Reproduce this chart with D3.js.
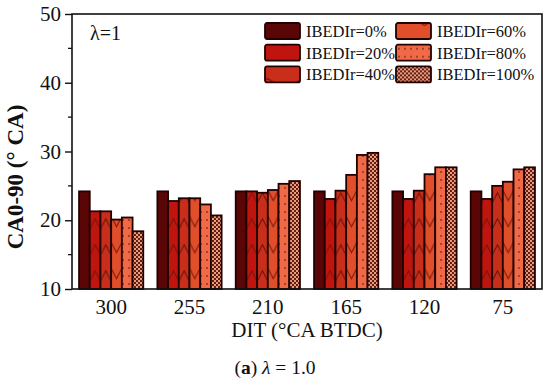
<!DOCTYPE html>
<html>
<head>
<meta charset="utf-8">
<script src="https://cdn.jsdelivr.net/npm/d3@7"></script>
<style>
  body { margin: 0; background: #fff; }
  text { font-family: "Liberation Serif", "Times New Roman", serif; fill: #111; }
</style>
</head>
<body>
<svg id="chart" width="550" height="381"></svg>
<script>
// data
var categories = ["300", "255", "210", "165", "120", "75"];
var series = ["IBEDIr=0%", "IBEDIr=20%", "IBEDIr=40%", "IBEDIr=60%", "IBEDIr=80%", "IBEDIr=100%"];
var ibedir0   = [24.2, 24.2, 24.2, 24.2, 24.2, 24.2];
var ibedir20  = [21.3, 22.8, 24.2, 23.1, 23.1, 23.1];
var ibedir40  = [21.3, 23.2, 24.0, 24.3, 24.3, 25.0];
var ibedir60  = [20.1, 23.2, 24.4, 26.6, 26.7, 25.6];
var ibedir80  = [20.4, 22.3, 25.3, 29.5, 27.7, 27.4];
var ibedir100 = [18.4, 20.7, 25.7, 29.8, 27.7, 27.7];
var yTicks = [10, 20, 30, 40, 50];
var yMinor = [15, 25, 35, 45];

var values = [ibedir0, ibedir20, ibedir40, ibedir60, ibedir80, ibedir100];
var fills = ["#5a0606", "#c0150f", "#c92e1b", "#e04e2a", "#f06a48", "#e0a080"];
var hatch = [null, "#7e120c", "#6e160c", "#8a2010", null, null];

var svg = d3.select("#chart");
var plotL = 72, plotR = 542, plotT = 14, plotB = 289;

var x0 = d3.scaleBand()
    .domain(categories)
    .range([plotL, plotR])
    .paddingInner(0.18)
    .paddingOuter(0.09);

var x1 = d3.scaleBand()
    .domain(d3.range(series.length))
    .range([0, x0.bandwidth()]);

var y = d3.scaleLinear()
    .domain([10, 50])
    .range([plotB, plotT]);

var defs = svg.append("defs");

// dotted and checkered fills
var dots = defs.append("pattern")
    .attr("id", "dots")
    .attr("patternUnits", "userSpaceOnUse")
    .attr("width", 6).attr("height", 8);
dots.append("rect").attr("width", 6).attr("height", 8).attr("fill", fills[4]);
dots.append("circle").attr("cx", 3).attr("cy", 4).attr("r", 0.9).attr("fill", "#8a2a14");

var checker = defs.append("pattern")
    .attr("id", "checker")
    .attr("patternUnits", "userSpaceOnUse")
    .attr("width", 4).attr("height", 4);
checker.append("rect").attr("width", 4).attr("height", 4).attr("fill", fills[5]);
checker.append("rect").attr("width", 2).attr("height", 2).attr("fill", "#6a1a10");
checker.append("rect").attr("x", 2).attr("y", 2).attr("width", 2).attr("height", 2).attr("fill", "#6a1a10");

// chevron hatch, one pattern per bar so it lines up with the bar
function chevron(id, s, bx, by, w) {
    var h = 26;
    var p = defs.append("pattern")
        .attr("id", id)
        .attr("patternUnits", "userSpaceOnUse")
        .attr("x", bx).attr("y", by)
        .attr("width", w).attr("height", h);
    p.append("rect").attr("width", w).attr("height", h).attr("fill", fills[s]);
    var d;
    if (s == 3) d = "M0," + (h * 0.2) + " L" + (w / 2) + "," + (h * 0.6) + " L" + w + "," + (h * 0.2);
    else d = "M0," + (h * 0.7) + " L" + (w / 2) + "," + (h * 0.3) + " L" + w + "," + (h * 0.7);
    p.append("path").attr("d", d)
        .attr("fill", "none")
        .attr("stroke", hatch[s])
        .attr("stroke-width", 1.2);
}

function fillFor(s, id, bx, by, w) {
    if (s == 0) return fills[0];
    if (s == 4) return "url(#dots)";
    if (s == 5) return "url(#checker)";
    chevron(id, s, bx, by, w);
    return "url(#" + id + ")";
}

// bars
var barData = [];
categories.forEach(function(c, ci) {
    values.forEach(function(v, si) {
        barData.push({cat: c, s: si, v: v[ci]});
    });
});

svg.append("g").selectAll("rect")
    .data(barData)
    .enter()
    .append("rect")
    .attr("x", d => x0(d.cat) + x1(d.s))
    .attr("y", d => y(d.v))
    .attr("width", x1.bandwidth())
    .attr("height", d => y(10) - y(d.v))
    .attr("fill", (d, i) => fillFor(d.s, "bar" + i, x0(d.cat) + x1(d.s), y(10), x1.bandwidth()))
    .attr("stroke", "#220000")
    .attr("stroke-width", 1.8);

// frame
svg.append("rect")
    .attr("x", plotL).attr("y", plotT)
    .attr("width", plotR - plotL).attr("height", plotB - plotT)
    .attr("fill", "none")
    .attr("stroke", "#111")
    .attr("stroke-width", 1.6);

// y axis
var yAxis = d3.axisLeft(y).tickValues(yTicks).tickSize(7).tickPadding(4);
var gy = svg.append("g")
    .attr("transform", "translate(" + plotL + ",0)")
    .call(yAxis);
gy.select(".domain").remove();
gy.selectAll("line").attr("stroke", "#111").attr("stroke-width", 1.4);
gy.selectAll("text")
    .style("font-family", "Liberation Serif, serif")
    .style("font-size", "21px")
    .attr("fill", "#111");

svg.append("g").selectAll("line")
    .data(yMinor)
    .enter()
    .append("line")
    .attr("x1", plotL - 4).attr("x2", plotL)
    .attr("y1", d => y(d)).attr("y2", d => y(d))
    .attr("stroke", "#111")
    .attr("stroke-width", 1.3);

// x labels
var xAxis = d3.axisBottom(x0).tickSize(0).tickPadding(10);
var gx = svg.append("g")
    .attr("transform", "translate(0," + plotB + ")")
    .call(xAxis);
gx.select(".domain").remove();
gx.selectAll("text")
    .style("font-family", "Liberation Serif, serif")
    .style("font-size", "21px")
    .attr("fill", "#111");

// titles
svg.append("text")
    .attr("x", 307)
    .attr("y", 337)
    .style("text-anchor", "middle")
    .style("font-size", "21px")
    .text("DIT (°CA BTDC)");

svg.append("text")
    .attr("transform", "translate(23,177) rotate(-90)")
    .style("text-anchor", "middle")
    .style("font-size", "23px")
    .style("font-weight", "bold")
    .text("CA0-90 (° CA)");

svg.append("text")
    .attr("x", 90)
    .attr("y", 40)
    .style("font-size", "20px")
    .text("λ=1");

var cap = svg.append("text")
    .attr("x", 275)
    .attr("y", 374)
    .style("text-anchor", "middle")
    .style("font-size", "19.5px");
cap.append("tspan").text("(");
cap.append("tspan").style("font-weight", "bold").text("a");
cap.append("tspan").text(") ");
cap.append("tspan").style("font-style", "italic").text("λ");
cap.append("tspan").text(" = 1.0");

// legend
var legend = svg.append("g").selectAll("g")
    .data(series)
    .enter()
    .append("g")
    .attr("transform", (d, i) => "translate(" + (265 + Math.floor(i / 3) * 131) + "," + (23 + (i % 3) * 21.7) + ")");

legend.append("rect")
    .attr("width", 35)
    .attr("height", 16)
    .attr("rx", 2)
    .attr("fill", (d, i) => fillFor(i, "leg" + i, 265 + Math.floor(i / 3) * 131, 23 + (i % 3) * 21.7 + 16, 35))
    .attr("stroke", "#220000")
    .attr("stroke-width", 1.8);

legend.append("text")
    .attr("x", 41)
    .attr("y", 14)
    .style("font-size", "16.5px")
    .text(d => d);
</script>
</body>
</html>
